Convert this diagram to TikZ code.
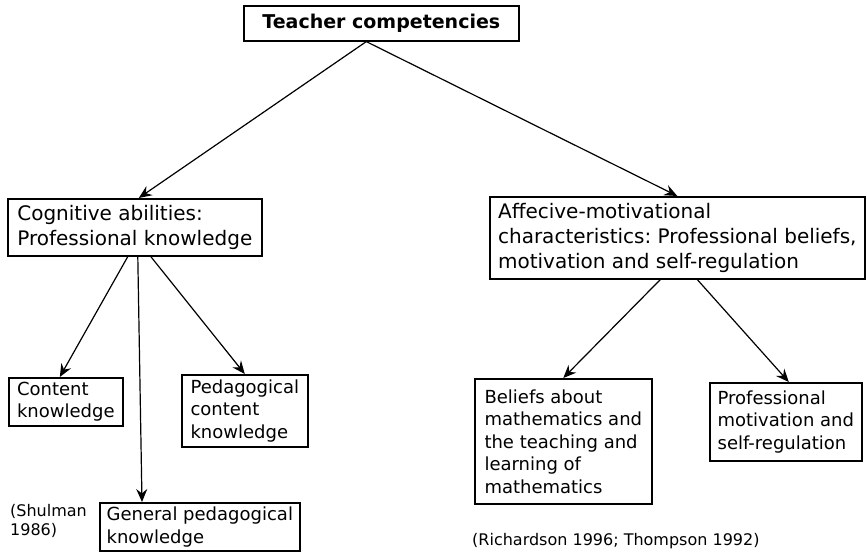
\documentclass[tikz,border=0pt]{standalone}
\usepackage{fontspec}
\setmainfont{DejaVu Sans}
\usetikzlibrary{arrows.meta}
\frenchspacing

\begin{document}
\begin{tikzpicture}[x=1pt, y=-1pt,
  box/.style={draw, line width=1.6pt, align=left, inner sep=2pt, anchor=north west},
  big/.style={font=\fontsize{20}{25}\selectfont},
  small/.style={font=\fontsize{18}{22.5}\selectfont},
  cite/.style={font=\fontsize{16}{19.5}\selectfont, align=left, inner sep=0pt},
  arr/.style={-{Stealth[length=13pt,width=11pt,inset=4.5pt]}, line width=1.2pt}]

\useasboundingbox (0,0) rectangle (867,553);

\begin{scope}
\node[box, font=\fontsize{19}{23}\bfseries, align=center, minimum width=275, minimum height=35] (top) at (243,5) {Teacher competencies};

\node[box, big, minimum width=254, minimum height=57] (cog) at (7,198) {Cognitive abilities:\\Professional knowledge};
\node[box, big, minimum width=375, minimum height=82] (aff) at (489,196) {Affecive-motivational\\characteristics: Professional beliefs,\\motivation and self-regulation};

\node[box, small, minimum width=114, minimum height=48] (cont) at (8,377) {Content\\knowledge};
\node[box, small, minimum width=126, minimum height=72] (ped) at (181,374) {Pedagogical\\content\\knowledge};
\node[box, small, minimum width=200, minimum height=48] (gen) at (99,502) {General pedagogical\\knowledge};

\node[box, small, minimum width=177, minimum height=125] (bel) at (474,378) {Beliefs about\\mathematics and\\the teaching and\\learning of\\mathematics};
\node[box, small, minimum width=152, minimum height=78] (mot) at (709,382) {Professional\\motivation and\\self-regulation};

\node[cite, anchor=north west] (shul) at (10,504) {(Shulman\\1986)};
\node[cite, anchor=base west] (rich) at (472,545) {(Richardson 1996; Thompson 1992)};
\end{scope}

\draw[arr] ([xshift=-15pt]top.south) -- ([xshift=4pt]cog.north);
\draw[arr] ([xshift=-15pt]top.south) -- (aff.north);

\draw[arr] ([xshift=-7pt]cog.south) -- ([xshift=-6pt]cont.north);
\draw[arr] ([xshift=3pt]cog.south) -- ([xshift=43pt]gen.north west);
\draw[arr] ([xshift=16pt]cog.south) -- (ped.north);

\draw[arr] ([xshift=-17pt]aff.south) -- (bel.north);
\draw[arr] ([xshift=20pt]aff.south) -- ([xshift=3pt]mot.north);

\end{tikzpicture}
\end{document}
